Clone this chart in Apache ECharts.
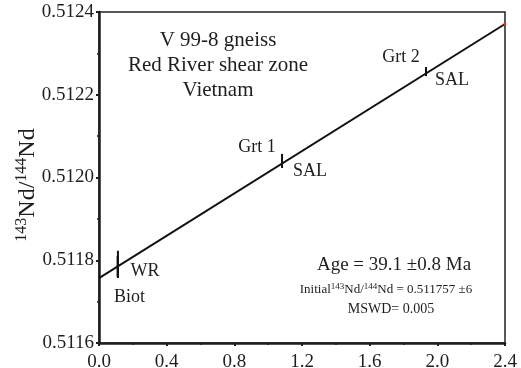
<!DOCTYPE html>
<html>
<head>
<meta charset="utf-8">
<script src="https://cdn.jsdelivr.net/npm/echarts@6/dist/echarts.min.js"></script>
<style>html,body{margin:0;padding:0;background:#fff}#c{width:521px;height:368px}</style>
</head>
<body>
<div id="c"></div>
<script>
// Sample names, 147Sm/144Nd (x), 143Nd/144Nd (y), 2-sigma error on y
var pointNames = ['WR', 'Biot', 'Grt 1', 'Grt 2'];
var xValues = [0.112, 0.110, 1.082, 1.933];
var yValues = [0.511790, 0.511785, 0.512040, 0.512256];
var yErrors = [0.0000330, 0.0000250, 0.0000170, 0.0000110];
var methodLabels = ['', '', 'SAL', 'SAL'];
// isochron line ends
var isoX = [0, 2.4];
var isoY = [0.511757, 0.512371];
// axis ticks
var xTicks = [0.0, 0.4, 0.8, 1.2, 1.6, 2.0, 2.4];
var yTicks = [0.5116, 0.5118, 0.5120, 0.5122, 0.5124];

var FONT = 'Liberation Serif';
var TXT = '#1e1e1e';
var chart = echarts.init(document.getElementById('c'));

var pts = xValues.map(function (x, i) { return [x, yValues[i], yErrors[i], pointNames[i], methodLabels[i]]; });
var nameOffsets = { 'WR': [27, 7], 'Biot': [12, 31], 'Grt 1': [-25, -14], 'Grt 2': [-25, -14] };
var methOffsets = { 'Grt 1': [28, 10], 'Grt 2': [26, 9] };

function labelItem(p, text, off) {
  return { value: [p[0], p[1]], label: { show: true, formatter: text, offset: off, position: 'inside', opacity: 1,
    color: TXT, fontFamily: FONT, fontSize: 18 } };
}

chart.setOption({
  animation: false,
  grid: { left: 99, right: 16, top: 12, bottom: 25, show: true, borderColor: '#222', borderWidth: 1.5,
    outerBoundsMode: 'none', containLabel: false },
  xAxis: {
    type: 'value', min: xTicks[0], max: xTicks[xTicks.length - 1], interval: 0.4,
    axisLine: { show: true, onZero: false, lineStyle: { color: '#1e1e1e', width: 2.5 } },
    axisTick: { show: true, length: 3, lineStyle: { color: '#1e1e1e', width: 2 } },
    minorTick: { show: true, splitNumber: 2, length: 2, lineStyle: { color: '#1e1e1e', width: 1.5 } },
    splitLine: { show: false },
    axisLabel: { margin: 10, color: TXT, fontFamily: FONT, fontSize: 19, formatter: function (v) { return v.toFixed(1); } }
  },
  yAxis: {
    type: 'value', min: yTicks[0], max: yTicks[yTicks.length - 1], interval: 0.0002,
    axisLine: { show: true, onZero: false, lineStyle: { color: '#1e1e1e', width: 2.5 } },
    axisTick: { show: true, length: 3, lineStyle: { color: '#1e1e1e', width: 2 } },
    minorTick: { show: true, splitNumber: 2, length: 2, lineStyle: { color: '#1e1e1e', width: 1.5 } },
    splitLine: { show: false },
    axisLabel: { margin: 5, color: TXT, fontFamily: FONT, fontSize: 19, formatter: function (v) { return v.toFixed(4); } }
  },
  series: [
    {
      type: 'line', data: isoX.map(function (x, i) { return [x, isoY[i]]; }),
      symbol: 'none', lineStyle: { color: '#111', width: 2 }, z: 2
    },
    {
      type: 'scatter', data: [[isoX[1], isoY[1]]], symbolSize: 3,
      itemStyle: { color: '#e0302a', opacity: 1 }, z: 3
    },
    {
      type: 'custom', data: pts, z: 4,
      renderItem: function (params, api) {
        var x = api.value(0), y = api.value(1), e = api.value(2);
        var p1 = api.coord([x, y - e]), p2 = api.coord([x, y + e]);
        return { type: 'line', shape: { x1: p1[0], y1: p1[1], x2: p2[0], y2: p2[1] }, style: { stroke: '#111', lineWidth: 2 } };
      }
    },
    {
      type: 'scatter', symbolSize: 2, itemStyle: { color: 'rgba(0,0,0,0)', opacity: 1 }, z: 5,
      data: pts.map(function (p) { return labelItem(p, p[3], nameOffsets[p[3]]); })
    },
    {
      type: 'scatter', symbolSize: 2, itemStyle: { color: 'rgba(0,0,0,0)', opacity: 1 }, z: 5,
      data: pts.filter(function (p) { return p[4]; }).map(function (p) { return labelItem(p, p[4], methOffsets[p[3]]); })
    }
  ],
  graphic: [
    { type: 'text', x: 218, y: 40, style: { text: 'V 99-8 gneiss', font: '21px "Liberation Serif"', fill: TXT, align: 'center', verticalAlign: 'middle' } },
    { type: 'text', x: 218, y: 65, style: { text: 'Red River shear zone', font: '21px "Liberation Serif"', fill: TXT, align: 'center', verticalAlign: 'middle' } },
    { type: 'text', x: 218, y: 90, style: { text: 'Vietnam', font: '21px "Liberation Serif"', fill: TXT, align: 'center', verticalAlign: 'middle' } },
    { type: 'text', x: 394, y: 265, style: { text: 'Age = 39.1 \u00b10.8 Ma', font: '19px "Liberation Serif"', fill: TXT, align: 'center', verticalAlign: 'middle' } },
    { type: 'text', x: 386, y: 290, style: {
        text: 'Initial{s|143}Nd/{s|144}Nd = 0.511757 \u00b16', fill: TXT, align: 'center', verticalAlign: 'middle',
        fontFamily: FONT, fontSize: 13,
        rich: { s: { fontFamily: FONT, fontSize: 9, verticalAlign: 'top', lineHeight: 16, fill: TXT } } } },
    { type: 'text', x: 391, y: 309, style: { text: 'MSWD= 0.005', font: '14px "Liberation Serif"', fill: TXT, align: 'center', verticalAlign: 'middle' } },
    { type: 'text', x: 28, y: 185, rotation: Math.PI / 2, style: {
        text: '{s|143}{b|Nd/}{s|144}{b|Nd}', fill: TXT, align: 'center', verticalAlign: 'middle',
        rich: {
          b: { fontFamily: FONT, fontSize: 24, lineHeight: 28, fill: TXT },
          s: { fontFamily: FONT, fontSize: 16, lineHeight: 28, verticalAlign: 'top', fill: TXT }
        } } }
  ]
});
</script>
</body>
</html>
